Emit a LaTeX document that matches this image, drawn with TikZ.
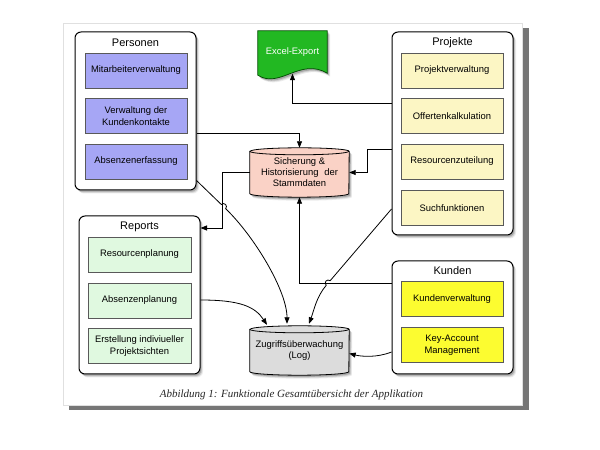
\documentclass[tikz,border=0pt]{standalone}
\usepackage{fontspec}
\setmainfont{Liberation Sans}
\newfontfamily\capfont{Liberation Serif}
\usetikzlibrary{arrows.meta,shadows,backgrounds}
\definecolor{persblue}{RGB}{166,166,245}
\definecolor{projyellow}{RGB}{252,246,196}
\definecolor{repgreen}{RGB}{224,249,224}
\definecolor{kundyellow}{RGB}{252,252,48}
\definecolor{sichpink}{RGB}{250,210,198}
\definecolor{zuggray}{RGB}{220,220,220}
\definecolor{excelgreen}{RGB}{34,184,34}
\definecolor{pageshadow}{RGB}{118,118,118}
\begin{document}
\begin{tikzpicture}[x=1pt,y=1pt,
  softshade/.style={
    drop shadow={shadow xshift=3pt, shadow yshift=-3.5pt, fill=black, opacity=0.08},
    drop shadow={shadow xshift=2.2pt, shadow yshift=-2.6pt, fill=black, opacity=0.12},
    drop shadow={shadow xshift=1.4pt, shadow yshift=-1.7pt, fill=black, opacity=0.18}},
  outerbox/.style={draw=black, line width=1pt, fill=white, rounded corners=6pt,
    softshade, minimum width=121pt},
  innerbox/.style={draw=black!65, line width=0.6pt, minimum width=102pt, minimum height=35pt,
    align=center, font=\fontsize{9.4}{12}\selectfont, text=black, inner sep=1pt},
  titletext/.style={font=\fontsize{11}{13}\selectfont},
  cylnode/.style={minimum width=99pt, minimum height=49pt, inner sep=0pt, align=center,
    font=\fontsize{9.4}{11}\selectfont, text=black},
  conn/.style={line width=0.8pt, -{Triangle[length=6.5pt,width=5pt]}}
]
\useasboundingbox (0,0) rectangle (600,450);
\begin{pgfonlayer}{background}
  \fill[pageshadow] (69,40) rectangle (529,422);
  \filldraw[fill=white, draw=black!12, line width=0.4pt] (63,45) rectangle (522,427);
\end{pgfonlayer}

% Personen
\node[outerbox, minimum height=158pt] (pers) at (135.5,339) {};
\node[titletext] (perst) at (135.5,407) {Personen};
\node[innerbox, fill=persblue] (p1) at (136,379.5) {Mitarbeiterverwaltung};
\node[innerbox, fill=persblue] (p2) at (136,334) {Verwaltung der\\Kundenkontakte};
\node[innerbox, fill=persblue] (p3) at (136,288.5) {Absenzenerfassung};

% Projekte
\node[outerbox, minimum height=203pt] (proj) at (452.5,316.5) {};
\node[titletext] (projt) at (452.5,407) {Projekte};
\node[innerbox, fill=projyellow] (q1) at (452,379.5) {Projektverwaltung};
\node[innerbox, fill=projyellow] (q2) at (452,334) {Offertenkalkulation};
\node[innerbox, fill=projyellow] (q3) at (452,288.5) {Resourcenzuteilung};
\node[innerbox, fill=projyellow] (q4) at (452,242) {Suchfunktionen};

% Reports
\node[outerbox, minimum height=158pt] (rep) at (139.5,155) {};
\node[titletext] (rept) at (139.5,223) {Reports};
\node[innerbox, fill=repgreen, minimum width=103pt] (r1) at (139.5,195.5) {Resourcenplanung};
\node[innerbox, fill=repgreen, minimum width=103pt] (r2) at (139.5,149.5) {Absenzenplanung};
\node[innerbox, fill=repgreen, minimum width=103pt] (r3) at (139.5,104) {Erstellung indiviueller\\Projektsichten};

% Kunden
\node[outerbox, minimum height=113pt] (kund) at (452.5,132.5) {};
\node[titletext] (kundt) at (452.5,179) {Kunden};
\node[innerbox, fill=kundyellow] (k1) at (452,151) {Kundenverwaltung};
\node[innerbox, fill=kundyellow] (k2) at (452,105) {Key-Account\\Management};

% Cylinders and Excel document
\node[cylnode] (sich) at (299.5,277.5) {Sicherung \&\\Historisierung\hspace{0.35em} der\\Stammdaten};
\node[cylnode] (zug) at (299.5,99.5) {Zugriffs\"uberwachung\\(Log)};
\node[minimum width=69pt, minimum height=42.5pt, inner sep=0pt, text=white,
  font=\fontsize{9.4}{11}\selectfont] (excel) at (292.5,397.75) {Excel-Export};

\begin{pgfonlayer}{background}
  \foreach \c/\col in {sich/sichpink, zug/zuggray}{
    \draw[line width=0.8pt, fill=\col, softshade]
      ([yshift=-3.5pt]\c.north west) -- ([yshift=3.5pt]\c.south west)
      arc[start angle=180, end angle=360, x radius=49.5pt, y radius=3.5pt]
      -- ([yshift=-3.5pt]\c.north east)
      arc[start angle=0, end angle=180, x radius=49.5pt, y radius=3.5pt] -- cycle;
    \draw[line width=0.8pt] ([yshift=-3.5pt]\c.north west)
      arc[start angle=180, end angle=360, x radius=49.5pt, y radius=3.5pt];
  }
  \draw[line width=0.7pt, draw=black!70!green, fill=excelgreen, softshade]
    (excel.north west) -- ([yshift=-1.5pt]excel.south west)
    .. controls +(22,-14) and +(-27,16) .. ([yshift=0.5pt]excel.south east)
    -- (excel.north east) -- cycle;
\end{pgfonlayer}

% Connectors
\draw[conn] ([yshift=-22pt]pers.east) -| (sich.north);
\draw[conn] ([yshift=30.5pt]proj.west) -| (excel.south);
\draw[conn] ([yshift=-15.5pt]proj.west) -- ++(-24,0) |- (sich.east);
\draw[conn] (sich.west) -- ++(-27,0) |- ([yshift=67pt]rep.east);
\draw[conn] ([yshift=34.5pt]kund.west) -| (sich.south);
\draw[conn] ([yshift=10pt]pers.south east) -- ++(24.84,-24.01)
  arc[start angle=136, end angle=-44, radius=3]
  .. controls +(-44:40) and +(0,33) .. ([xshift=-12.5pt,yshift=2pt]zug.north);
\draw[conn] ([yshift=-75.5pt]proj.west) -- ++(-61.35,-71.72)
  arc[start angle=49.5, end angle=229.5, radius=3]
  .. controls +(229.5:15) and +(70:15) .. ([xshift=9.5pt,yshift=2pt]zug.north);
\draw[conn] ([yshift=-5pt]rep.east) .. controls +(40,0) and +(-12,18) .. ([xshift=-32.5pt,yshift=1pt]zug.north);
\draw[conn] ([yshift=-34.5pt]kund.west) .. controls +(-15,-6) and +(12,-3) .. ([yshift=-3pt]zug.east);

% Caption
\node[anchor=base, font=\capfont\itshape\fontsize{11}{13}\selectfont, text=black!85] (cap) at (291.5,52)
  {Abbildung 1: Funktionale Gesamt\"ubersicht der Applikation};
\end{tikzpicture}
\end{document}
